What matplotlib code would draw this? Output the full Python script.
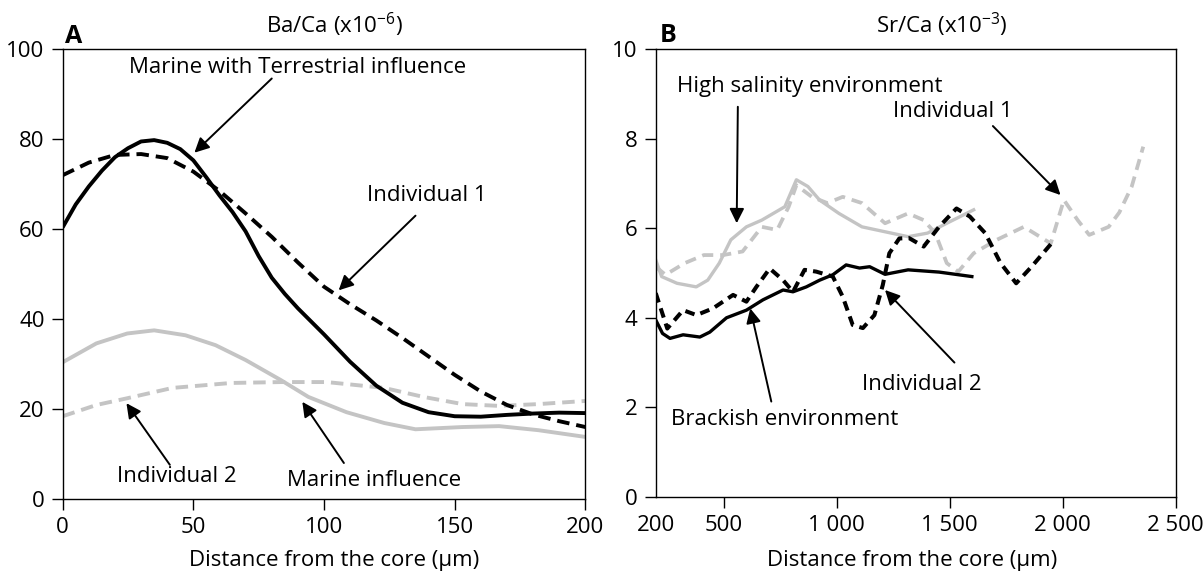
import matplotlib
matplotlib.use("Agg")
import matplotlib.pyplot as plt

plt.rcParams['font.family'] = ['Open Sans', 'DejaVu Sans']
plt.rcParams['mathtext.fontset'] = 'custom'
plt.rcParams['mathtext.rm'] = 'Open Sans'
plt.rcParams['mathtext.default'] = 'regular'
plt.rcParams['lines.scale_dashes'] = False

# ---------------- Panel A: Ba/Ca ----------------
a_terr_x = [0, 5, 10, 15, 20, 25, 30, 35, 40, 45, 50, 55, 60, 65, 70, 75, 80, 85, 90, 95,
            100, 110, 120, 130, 140, 150, 160, 170, 180, 190, 200]
a_terr_y = [60.4, 65.5, 69.5, 73, 76, 78, 79.5, 79.8, 79.2, 77.8, 75.3, 71.5, 67.5, 63.8,
            59.5, 54, 49.2, 45.6, 42.4, 39.5, 36.6, 30.5, 25.2, 21.4, 19.3, 18.4, 18.3,
            18.7, 19.0, 19.2, 19.1]

a_ind1_x = [0, 10, 20, 30, 40, 50, 60, 70, 80, 90, 100, 110, 120, 130, 140, 150, 160,
            170, 180, 190, 200]
a_ind1_y = [72, 74.8, 76.5, 76.7, 75.8, 72.8, 68.5, 63.5, 58.3, 52.6, 47.2, 43.3, 39.7,
            35.8, 31.7, 27.6, 23.9, 20.9, 18.8, 17.3, 16]

a_mar_x = [0, 12.9, 24.7, 35, 47, 58.5, 70, 83.6, 94, 108.6, 123, 135, 153, 167, 182, 200]
a_mar_y = [30.4, 34.6, 36.8, 37.5, 36.4, 34.2, 30.9, 26.4, 22.7, 19.3, 16.9, 15.5, 16,
           16.2, 15.3, 13.8]

a_ind2_x = [0, 12.9, 24.7, 42, 64.5, 83.6, 101, 123, 138, 153, 167, 182, 200]
a_ind2_y = [18.4, 20.9, 22.4, 24.7, 25.8, 26, 26, 24.7, 22.7, 21.1, 20.7, 21.1, 21.8]

a_xticks = [0, 50, 100, 150, 200]
a_yticks = [0, 20, 40, 60, 80, 100]

# ---------------- Panel B: Sr/Ca ----------------
b_brack_x = [200, 230, 263, 321, 395, 439, 513, 601, 674, 763, 807, 866, 925, 983, 1042,
             1101, 1146, 1214, 1316, 1453, 1598]
b_brack_y = [3.95, 3.65, 3.54, 3.62, 3.57, 3.68, 4.0, 4.17, 4.4, 4.62, 4.58, 4.69, 4.84,
             4.96, 5.18, 5.11, 5.14, 4.97, 5.07, 5.02, 4.92]

b_high_x = [200, 226, 294, 379, 430, 481, 532, 601, 669, 720, 771, 822, 873, 924, 1010,
            1112, 1214, 1316, 1402, 1487, 1606]
b_high_y = [5.29, 4.92, 4.77, 4.69, 4.84, 5.22, 5.74, 6.03, 6.18, 6.33, 6.48, 7.08, 6.93,
            6.63, 6.33, 6.03, 5.92, 5.81, 5.89, 6.11, 6.41]

b_ind1_x = [200, 243, 328, 413, 498, 584, 669, 737, 788, 822, 890, 959, 1027, 1112, 1214,
            1316, 1385, 1436, 1487, 1538, 1606, 1708, 1828, 1947, 2005, 2066, 2117, 2203,
            2250, 2305, 2356]
b_ind1_y = [5.14, 4.96, 5.22, 5.40, 5.40, 5.48, 6.03, 5.96, 6.48, 6.96, 6.70, 6.56, 6.70,
            6.56, 6.11, 6.33, 6.18, 5.89, 5.22, 5.03, 5.44, 5.74, 6.03, 5.66, 6.63, 6.18,
            5.85, 6.03, 6.35, 6.93, 7.82]

b_ind2_x = [200, 251, 321, 380, 453, 542, 601, 645, 704, 763, 807, 858, 910, 983, 1027,
            1071, 1116, 1167, 1204, 1233, 1277, 1320, 1385, 1453, 1530, 1589, 1657, 1725,
            1794, 1862, 1960]
b_ind2_y = [4.55, 3.76, 4.17, 4.06, 4.21, 4.51, 4.36, 4.69, 5.1, 4.84, 4.58, 5.07, 5.03,
            4.92, 4.47, 3.84, 3.77, 4.06, 4.73, 5.44, 5.77, 5.78, 5.59, 6.03, 6.44, 6.26,
            5.89, 5.22, 4.77, 5.14, 5.72]

b_xticks = [200, 500, 1000, 1500, 2000, 2500]
b_xticklabels = ['200', '500', '1 000', '1 500', '2 000', '2 500']
b_yticks = [0, 2, 4, 6, 8, 10]

GRAY = '#c4c4c4'
FS = 16

fig = plt.figure(figsize=(12.03, 5.75), dpi=100)
axA = fig.add_axes([0.0521, 0.1322, 0.4345, 0.7821])
axB = fig.add_axes([0.5451, 0.1357, 0.4323, 0.7791])

for ax in (axA, axB):
    for s in ax.spines.values():
        s.set_linewidth(1.0)
    ax.tick_params(direction='out', length=8, width=1.0, labelsize=FS, pad=5)

# Panel A lines
lwA = 2.8
axA.plot(a_mar_x, a_mar_y, color=GRAY, lw=lwA, solid_joinstyle='round', solid_capstyle='butt')
axA.plot(a_ind2_x, a_ind2_y, color=GRAY, lw=lwA, dashes=[9, 5])
axA.plot(a_terr_x, a_terr_y, color='black', lw=lwA, solid_joinstyle='round', solid_capstyle='butt')
axA.plot(a_ind1_x, a_ind1_y, color='black', lw=lwA, dashes=[9, 5])
axA.set_xlim(0, 200)
axA.set_ylim(0, 100)
axA.set_xticks(a_xticks)
axA.set_yticks(a_yticks)
axA.set_xlabel('Distance from the core (μm)', fontsize=FS)
axA.xaxis.set_label_coords(0.519, -0.113)

arrow = dict(arrowstyle='-|>', lw=1.4, color='black', mutation_scale=22,
             shrinkA=0, shrinkB=0)

axA.text(90, 96, 'Marine with Terrestrial influence', fontsize=FS, ha='center', va='center')
axA.annotate('', xy=(50.4, 77), xytext=(80, 93.5), arrowprops=arrow)
axA.text(139.5, 67.5, 'Individual 1', fontsize=FS, ha='center', va='center')
axA.annotate('', xy=(105.6, 46.4), xytext=(135, 63), arrowprops=arrow)
axA.text(43.8, 4.9, 'Individual 2', fontsize=FS, ha='center', va='center')
axA.annotate('', xy=(24.4, 21.3), xytext=(41, 7.6), arrowprops=arrow)
axA.text(119, 4.2, 'Marine influence', fontsize=FS, ha='center', va='center')
axA.annotate('', xy=(91.7, 21.6), xytext=(107.6, 8), arrowprops=arrow)

# Panel B lines
lwB = 2.4
axB.plot(b_high_x, b_high_y, color=GRAY, lw=lwB, solid_joinstyle='round')
axB.plot(b_ind1_x, b_ind1_y, color=GRAY, lw=lwB + 0.3, dashes=[8, 5])
axB.plot(b_brack_x, b_brack_y, color='black', lw=lwB, solid_joinstyle='round')
axB.plot(b_ind2_x, b_ind2_y, color='black', lw=lwB + 0.5, dashes=[7, 4.5])
axB.set_xlim(200, 2500)
axB.set_ylim(0, 10)
axB.set_xticks(b_xticks)
axB.set_xticklabels(b_xticklabels)
axB.xaxis.get_major_ticks()[0].tick1line.set_visible(False)
axB.set_yticks(b_yticks)
axB.set_xlabel('Distance from the core (μm)', fontsize=FS)
axB.xaxis.set_label_coords(0.4927, -0.118)

axB.text(882, 9.17, 'High salinity environment', fontsize=FS, ha='center', va='center')
axB.annotate('', xy=(558, 6.11), xytext=(563, 8.71), arrowprops=arrow)
axB.text(1512, 8.6, 'Individual 1', fontsize=FS, ha='center', va='center')
axB.annotate('', xy=(1990, 6.74), xytext=(1691, 8.28), arrowprops=arrow)
axB.text(1376, 2.5, 'Individual 2', fontsize=FS, ha='center', va='center')
axB.annotate('', xy=(1214, 4.62), xytext=(1521, 3.0), arrowprops=arrow)
axB.text(771, 1.72, 'Brackish environment', fontsize=FS, ha='center', va='center')
axB.annotate('', xy=(618, 4.21), xytext=(711, 2.13), arrowprops=arrow)

# Titles and panel letters
fig.text(0.2785, 0.9565, 'Ba/Ca (x10$^{-6}$)', fontsize=FS, ha='center', va='center')
fig.text(0.783, 0.9565, 'Sr/Ca (x10$^{-3}$)', fontsize=FS, ha='center', va='center')
fig.text(0.054, 0.925, 'A', fontsize=18, fontweight='bold', ha='left', va='baseline')
fig.text(0.5486, 0.927, 'B', fontsize=18, fontweight='bold', ha='left', va='baseline')

fig.savefig('out.png', dpi=100)
